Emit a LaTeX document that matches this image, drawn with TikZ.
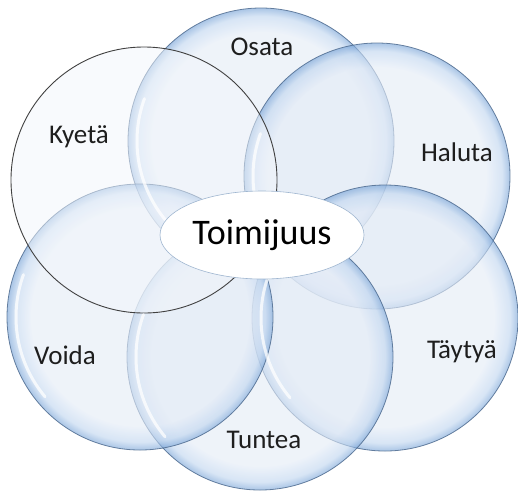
\documentclass[tikz,border=0pt]{standalone}
\usepackage{fontspec}
\setmainfont{Carlito}
\usetikzlibrary{shapes.geometric}

\definecolor{bubblecore}{HTML}{E3EBF6}
\definecolor{bubblemid}{HTML}{BFD5EF}
\definecolor{bubblerim}{HTML}{76A2D6}
\definecolor{bubbleedge}{HTML}{4F6C90}
\definecolor{labeltext}{HTML}{1E1E1E}
\definecolor{hubedge}{HTML}{9FB6D0}

% glassy ring: flat core, blue glow towards the rim (25bp = path edge)
\pgfdeclareradialshading{bubbleshade}{\pgfpoint{0bp}{0bp}}{%
  color(0bp)=(bubblecore); color(20.5bp)=(bubblecore);
  color(23.5bp)=(bubblemid); color(25bp)=(bubblerim); color(50bp)=(bubblerim)}

\tikzset{
  bubble/.style={circle, minimum size=266pt, inner sep=0pt,
    shade, shading=bubbleshade, fill opacity=0.62,
    draw=bubbleedge, draw opacity=0.85, line width=0.8pt},
  plainbubble/.style={circle, minimum size=266pt, inner sep=0pt,
    fill=bubblecore!45!white, fill opacity=0.5,
    draw=black!75, line width=0.9pt},
  gleam/.style={white, line width=3pt, opacity=0.75, line cap=round},
  hub/.style={ellipse, minimum width=204pt, minimum height=88pt, inner sep=0pt,
    fill=white, draw=hubedge, line width=0.6pt,
    font=\fontsize{36}{40}\selectfont, text=black},
  tag/.style={inner sep=0pt, font=\fontsize{27}{30}\selectfont, text=labeltext}
}

\begin{document}
\begin{tikzpicture}[x=1pt, y=-1pt]
% ---- canvas, pixel coordinates (y runs down) ----
\useasboundingbox (0,0) rectangle (518,491);

% ---- the six circles ----
\node[bubble] (osata)  at (261,141) {};
\node[bubble] (haluta) at (377,176) {};
\node[bubble] (taytya) at (385,318) {};
\node[bubble] (tuntea) at (260,357) {};
\node[bubble] (voida)  at (140,317) {};
\node[plainbubble] (kyeta) at (144,180) {};

% ---- white gleam inside the left rim of each glassy circle ----
\foreach \b in {osata,haluta,taytya,tuntea,voida} {
  \draw[gleam] ([shift={(140:124)}]\b.center) arc[start angle=140, end angle=200, radius=124];
}

% ---- centre ----
\node[hub] (toimijuus) at (262,235) {Toimijuus};

% ---- circle labels ----
\node[tag] (osata-tag)  at (262,47)  {Osata};
\node[tag] (haluta-tag) at (457,152) {Haluta};
\node[tag] (taytya-tag) at (462,352) {Täytyä};
\node[tag] (tuntea-tag) at (264,440) {Tuntea};
\node[tag] (voida-tag)  at (65,355)  {Voida};
\node[tag] (kyeta-tag)  at (79,137)  {Kyetä};
\end{tikzpicture}
\end{document}
